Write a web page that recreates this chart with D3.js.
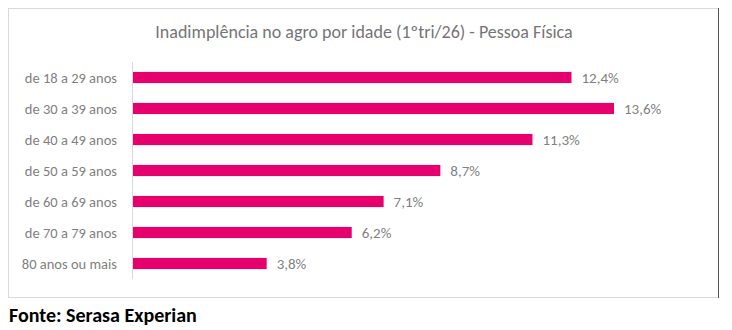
<html>
<head>
<script src="https://d3js.org/d3.v7.min.js"></script>
<style>
    body { margin: 0; background: #fff; }
    text { font-family: Carlito, Calibri, Lato, sans-serif; }
</style>
</head>
<body>
<svg id="chart" width="732" height="330"></svg>
<script>
    // data
    const categories = ["de 18 a 29 anos", "de 30 a 39 anos", "de 40 a 49 anos", "de 50 a 59 anos",
        "de 60 a 69 anos", "de 70 a 79 anos", "80 anos ou mais"];
    const values = [12.4, 13.6, 11.3, 8.7, 7.1, 6.2, 3.8];
    const title = "Inadimplência no agro por idade (1ºtri/26) - Pessoa Física";
    const source = "Fonte: Serasa Experian";

    const svg = d3.select("#chart");

    // chart frame
    svg.append("rect")
        .attr("x", 8.5).attr("y", 8.5)
        .attr("width", 710).attr("height", 289)
        .attr("fill", "#fff")
        .attr("stroke", "#d9d9d9");
    svg.append("line")
        .attr("x1", 718.5).attr("x2", 718.5)
        .attr("y1", 8).attr("y2", 298)
        .attr("stroke", "#555");

    svg.append("text")
        .attr("x", 364).attr("y", 38)
        .attr("text-anchor", "middle")
        .attr("font-size", 18)
        .attr("fill", "#757575")
        .text(title);

    const x = d3.scaleLinear().domain([0, 14]).range([132, 132 + 14 * 35.44]);
    const y = d3.scaleBand().domain(categories).range([62, 279]).paddingInner(0.64).paddingOuter(0.32);

    svg.append("line")
        .attr("x1", 132.5).attr("x2", 132.5)
        .attr("y1", 62).attr("y2", 279)
        .attr("stroke", "#d9d9d9");

    svg.selectAll("rect.bar").data(values)
        .join("rect")
        .attr("class", "bar")
        .attr("x", x(0) + 1)
        .attr("y", (d, i) => y(categories[i]))
        .attr("width", d => x(d) - x(0) - 1)
        .attr("height", y.bandwidth())
        .attr("fill", "#e6006e");

    svg.selectAll("text.val").data(values)
        .join("text")
        .attr("class", "val")
        .attr("x", d => x(d) + 10)
        .attr("y", (d, i) => y(categories[i]) + y.bandwidth() / 2)
        .attr("dy", "0.35em")
        .attr("font-size", 15)
        .attr("fill", "#7f7f7f")
        .text(d => d3.format(".1f")(d).replace(".", ",") + "%");

    svg.selectAll("text.cat").data(categories)
        .join("text")
        .attr("class", "cat")
        .attr("x", 117)
        .attr("y", d => y(d) + y.bandwidth() / 2)
        .attr("dy", "0.35em")
        .attr("text-anchor", "end")
        .attr("font-size", 14.5)
        .attr("fill", "#7f7f7f")
        .text(d => d);

    svg.append("text")
        .attr("x", 9).attr("y", 322)
        .attr("font-size", 20)
        .attr("font-weight", "bold")
        .attr("fill", "#000")
        .text(source);
</script>
</body>
</html>
